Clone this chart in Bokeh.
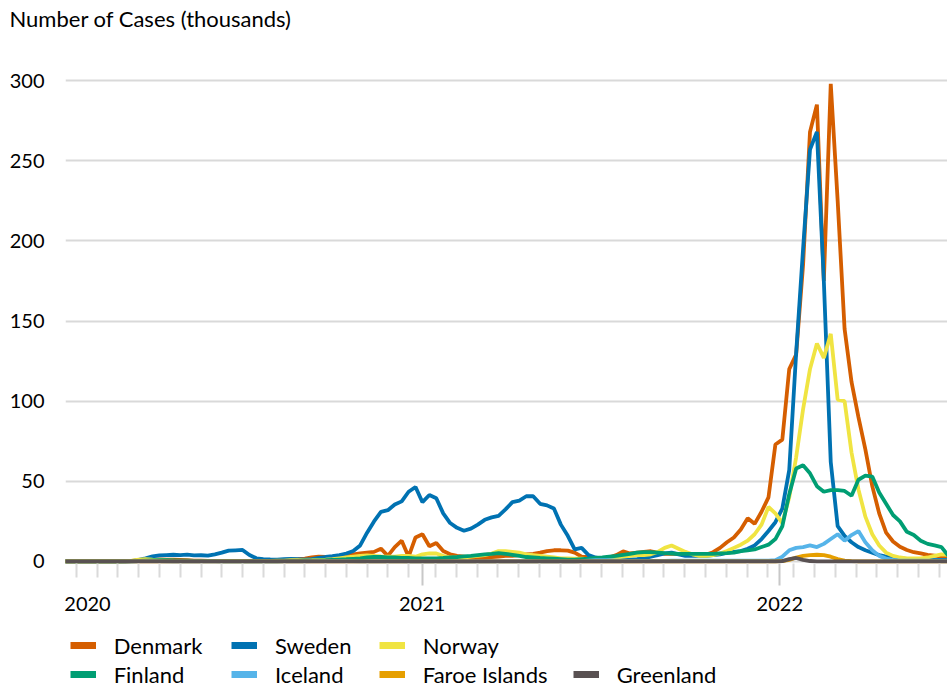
from bokeh.plotting import figure
from bokeh.layouts import column
from bokeh.models import (ColumnDataSource, FixedTicker, Range1d, Legend, LegendItem,
                          LinearAxis)
from bokeh.embed import file_html
from bokeh.resources import INLINE

# week index 0..128 (weekly points, Jan 2020 .. Jun 2022)
weeks = list(range(129))

denmark = [
    0, 0, 0, 0, 0, 0, 0, 0, 0, 0,
    0.3, 0.6, 0.9, 1.1, 1.3, 1.2, 1.1, 1.0, 0.8, 0.6,
    0.5, 0.4, 0.3, 0.3, 0.3, 0.3, 0.3, 0.4, 0.5, 0.7,
    0.8, 0.9, 1.0, 1.2, 1.4, 1.8, 2.5, 3.0, 2.8, 3.0,
    3.3, 4.0, 4.5, 5.0, 5.5, 6.0, 8.0, 3.5, 9.0, 13.0,
    3.0, 15.0, 17.0, 9.5, 11.5, 6.5, 4.5, 3.5, 3.0, 2.5,
    2.5, 2.5, 2.8, 3.0, 3.5, 3.5, 4.0, 4.5, 4.8, 5.5,
    6.5, 7.0, 7.0, 6.8, 5.5, 3.0, 2.7, 2.0, 1.7, 2.5,
    4.0, 6.3, 5.0, 5.5, 6.0, 6.4, 5.5, 4.8, 4.8, 4.8,
    4.6, 4.4, 4.4, 4.4, 5.8, 8.5, 12.0, 15.0, 20.0, 27.0,
    23.5, 31.0, 40.0, 73.0, 76.0, 120.0, 129.0, 185.0, 268.0, 285.0,
    175.0, 298.0, 225.0, 145.0, 112.0, 90.0, 70.0, 47.0, 30.0, 18.0,
    12.5, 9.2, 7.2, 5.8, 5.0, 4.2, 3.6, 3.0, 2.7]

sweden = [
    0, 0, 0, 0, 0, 0, 0, 0, 0, 0.1,
    0.3, 1.0, 2.0, 3.2, 3.8, 4.0, 4.2, 4.0, 4.3, 3.8,
    3.9, 3.6, 4.5, 5.5, 6.8, 7.0, 7.2, 4.0, 2.0, 1.5,
    1.3, 1.2, 1.4, 1.6, 1.4, 1.2, 1.5, 2.2, 2.8, 3.3,
    4.0, 5.0, 6.5, 10.0, 18.0, 25.0, 31.0, 32.0, 35.5, 37.5,
    43.5, 46.5, 37.0, 41.5, 39.5, 30.0, 24.0, 21.0, 19.2, 20.5,
    23.0, 26.0, 27.5, 28.5, 32.5, 37.0, 38.0, 40.7, 40.7, 36.0,
    35.0, 33.0, 23.0, 16.0, 7.5, 8.5, 4.0, 2.5, 1.7, 1.2,
    1.0, 1.0, 1.2, 1.5, 2.0, 3.0, 4.0, 5.0, 5.5, 4.5,
    3.5, 3.5, 3.5, 3.5, 4.0, 4.5, 5.5, 6.0, 6.5, 8.0,
    10.0, 14.0, 19.0, 24.5, 33.0, 57.0, 130.0, 195.0, 257.0, 268.0,
    175.0, 62.0, 22.0, 16.0, 12.0, 9.0, 7.0, 5.5, 4.0, 3.0,
    2.5, 2.0, 1.6, 1.4, 1.2, 1.1, 1.0, 1.0, 1.0]

norway = [
    0, 0, 0, 0, 0, 0, 0, 0, 0, 0.2,
    0.5, 1.2, 1.5, 1.2, 1.0, 0.7, 0.5, 0.4, 0.3, 0.3,
    0.2, 0.2, 0.2, 0.2, 0.2, 0.2, 0.2, 0.2, 0.2, 0.3,
    0.4, 0.5, 0.6, 0.8, 0.8, 0.7, 0.8, 1.0, 1.2, 1.5,
    2.0, 2.5, 3.0, 3.5, 3.8, 3.5, 3.2, 3.0, 3.0, 3.5,
    3.5, 3.0, 4.5, 5.0, 5.0, 3.5, 2.5, 2.5, 2.5, 3.0,
    3.5, 4.0, 5.0, 6.5, 6.5, 6.0, 5.5, 4.5, 4.0, 3.5,
    3.0, 2.5, 2.0, 2.0, 1.8, 1.8, 1.5, 1.5, 1.5, 2.0,
    2.5, 3.0, 3.5, 4.0, 4.0, 4.5, 6.0, 8.5, 10.0, 8.0,
    6.0, 4.5, 3.5, 3.5, 4.0, 5.0, 6.5, 8.5, 10.5, 13.0,
    17.0, 23.0, 34.0, 30.0, 24.0, 40.0, 65.0, 95.0, 120.0, 136.0,
    127.0, 142.0, 101.0, 100.0, 68.0, 45.0, 28.0, 17.0, 10.0, 5.5,
    3.5, 2.5, 2.0, 2.0, 2.0, 2.5, 3.5, 4.5, 4.0]

finland = [
    0, 0, 0, 0, 0, 0, 0, 0, 0, 0,
    0.1, 0.3, 0.5, 0.7, 0.8, 0.8, 0.7, 0.6, 0.5, 0.4,
    0.3, 0.2, 0.2, 0.1, 0.1, 0.1, 0.1, 0.1, 0.1, 0.1,
    0.1, 0.1, 0.2, 0.3, 0.4, 0.5, 0.6, 0.7, 0.8, 1.0,
    1.2, 1.4, 1.7, 2.0, 2.5, 2.8, 2.8, 2.5, 2.5, 2.3,
    2.2, 2.0, 2.0, 2.0, 2.0, 2.2, 2.5, 2.8, 3.2, 3.5,
    4.0, 4.5, 4.8, 5.2, 4.8, 4.2, 3.5, 2.8, 2.5, 2.2,
    2.0, 1.8, 1.5, 1.2, 1.2, 1.5, 1.8, 2.2, 2.5, 3.0,
    3.5, 4.2, 4.8, 5.5, 5.8, 5.8, 5.5, 5.2, 5.0, 4.8,
    4.8, 4.8, 4.8, 4.8, 4.8, 5.0, 5.2, 5.5, 6.5, 7.0,
    7.5, 9.0, 10.5, 14.0, 22.0, 42.0, 58.0, 60.0, 55.0, 47.0,
    43.5, 44.5, 44.5, 44.0, 41.0, 51.0, 53.5, 53.0, 43.0, 36.0,
    29.0, 25.0, 18.5, 16.5, 13.0, 11.0, 10.0, 9.0, 3.5]

iceland = [
    0, 0, 0, 0, 0, 0, 0, 0, 0, 0,
    0, 0.2, 0.4, 0.3, 0.2, 0.1, 0, 0, 0, 0,
    0, 0, 0, 0, 0, 0, 0, 0, 0, 0,
    0, 0, 0.1, 0.1, 0.1, 0.1, 0.2, 0.3, 0.4, 0.4,
    0.3, 0.3, 0.2, 0.1, 0.1, 0.1, 0.1, 0.1, 0.1, 0.1,
    0, 0, 0, 0, 0, 0, 0, 0, 0, 0,
    0, 0, 0, 0, 0, 0, 0, 0, 0, 0,
    0, 0, 0, 0, 0, 0.2, 0.5, 0.8, 0.9, 0.8,
    0.6, 0.5, 0.4, 0.3, 0.3, 0.3, 0.3, 0.4, 0.5, 0.6,
    0.6, 0.6, 0.6, 0.6, 0.6, 0.6, 0.6, 0.6, 0.6, 0.6,
    0.6, 0.6, 0.6, 0.8, 3.0, 7.0, 8.5, 9.0, 10.0, 9.0,
    11.0, 14.0, 17.0, 13.0, 16.5, 19.0, 12.0, 7.0, 3.5, 1.8,
    1.0, 0.6, 0.6, 0.6, 0.6, 0.6, 0.6, 0.6, 0.6]

faroe = [
    0, 0, 0, 0, 0, 0, 0, 0, 0, 0,
    0, 0, 0, 0, 0, 0, 0, 0, 0, 0,
    0, 0, 0, 0, 0, 0, 0, 0, 0, 0,
    0, 0, 0, 0, 0, 0, 0, 0, 0, 0,
    0, 0, 0, 0, 0, 0, 0, 0, 0, 0,
    0, 0, 0, 0, 0, 0, 0, 0, 0, 0,
    0, 0, 0, 0, 0, 0, 0, 0, 0, 0,
    0, 0, 0, 0, 0, 0, 0, 0, 0, 0,
    0, 0, 0, 0, 0, 0, 0, 0, 0, 0,
    0, 0, 0, 0, 0, 0, 0, 0, 0, 0,
    0, 0, 0, 0, 0.3, 1.0, 2.5, 3.5, 4.0, 4.2,
    4.0, 3.0, 1.5, 0.5, 0.2, 0, 0, 0, 0, 0,
    0, 0, 0, 0, 0, 0, 0, 0, 0]

greenland = [
    0, 0, 0, 0, 0, 0, 0, 0, 0, 0,
    0, 0, 0, 0, 0, 0, 0, 0, 0, 0,
    0, 0, 0, 0, 0, 0, 0, 0, 0, 0,
    0, 0, 0, 0, 0, 0, 0, 0, 0, 0,
    0, 0, 0, 0, 0, 0, 0, 0, 0, 0,
    0, 0, 0, 0, 0, 0, 0, 0, 0, 0,
    0, 0, 0, 0, 0, 0, 0, 0, 0, 0,
    0, 0, 0, 0, 0, 0, 0, 0, 0, 0,
    0, 0, 0, 0, 0, 0, 0, 0, 0, 0,
    0, 0, 0, 0, 0, 0, 0, 0, 0, 0,
    0, 0, 0, 0, 0.2, 1.5, 2.2, 1.0, 0.3, 0,
    0, 0, 0, 0, 0, 0, 0, 0, 0, 0,
    0, 0, 0, 0, 0, 0, 0, 0, 0]

countries = ["Denmark", "Sweden", "Norway", "Finland", "Iceland", "Faroe Islands", "Greenland"]
colors = ["#D55E00", "#0072B2", "#F0E442", "#009E73", "#56B4E9", "#E69F00", "#595152"]
series = [denmark, sweden, norway, finland, iceland, faroe, greenland]

y_ticks = [0, 50, 100, 150, 200, 250, 300]
year_labels = ["2020", "2021", "2022"]
year_pos = [3.6, 51.965, 103.64]          # label / tick positions in week units
minor_pos = ([2 + 3 * k for k in range(17)]
             + [53.9 + 3 * k for k in range(17)]
             + [105.65 + 3 * k for k in range(8)])
title_text = "Number of Cases (thousands)"

FONT = "Lato"
W = 947
FRAME_LEFT = 65

# ---------------- header (title) ----------------
header = figure(width=W, height=48, output_backend="svg", toolbar_location=None,
                x_axis_location=None, y_axis_location=None,
                x_range=Range1d(0, 1), y_range=Range1d(0, 1), title=title_text,
                min_border_left=0, min_border_right=0, min_border_top=0, min_border_bottom=0)
header.outline_line_color = None
header.grid.visible = False
header.title.align = "left"
header.title.offset = -58
header.title.standoff = 0
header.title.padding = 2
header.title.text_font = FONT
header.title.text_font_size = "22px"
header.title.text_font_style = "normal"
header.title.text_color = "#000000"

# ---------------- main chart ----------------
p = figure(width=W, height=576, output_backend="svg", toolbar_location=None,
           x_range=Range1d(0.42, 127.87), y_range=Range1d(-1.25, 320),
           min_border_left=FRAME_LEFT, min_border_right=0, min_border_top=0,
           min_border_bottom=61)
p.outline_line_color = None
p.background_fill_color = "white"
p.border_fill_color = "white"

data = {"week": weeks}
for name, vals in zip(countries, series):
    data[name] = vals
source = ColumnDataSource(data)

for name, color in zip(countries, colors):
    p.line("week", name, source=source, line_color=color, line_width=3.8)

p.xgrid.grid_line_color = None
p.ygrid.grid_line_color = "#d9d9d9"
p.ygrid.grid_line_width = 2
p.yaxis.ticker = FixedTicker(ticks=y_ticks)
p.yaxis.axis_line_color = None
p.yaxis.major_tick_line_color = None
p.yaxis.minor_tick_line_color = None
p.yaxis.major_tick_out = 0
p.yaxis.major_label_standoff = 21
p.yaxis.major_label_text_font = FONT
p.yaxis.major_label_text_font_size = "20px"
p.yaxis.major_label_text_color = "#000000"

# x axis A: tick marks only
xa = p.xaxis[0]
xa.ticker = FixedTicker(ticks=year_pos[1:], minor_ticks=minor_pos)
xa.major_label_overrides = {year_pos[1]: "", year_pos[2]: ""}
xa.major_label_text_font_size = "0px"
xa.major_label_standoff = 0
xa.axis_line_color = None
xa.major_tick_line_color = "#c8c8c8"
xa.major_tick_line_width = 2
xa.minor_tick_line_color = "#dadada"
xa.minor_tick_line_width = 2
xa.major_tick_in = 0
xa.minor_tick_in = 0
xa.major_tick_out = 22
xa.minor_tick_out = 14

# x axis B: year labels
xb = LinearAxis(ticker=FixedTicker(ticks=year_pos),
                major_label_overrides=dict(zip(year_pos, year_labels)),
                axis_line_color=None, major_tick_line_color=None,
                minor_tick_line_color=None, major_tick_in=0, major_tick_out=0,
                minor_tick_in=0, minor_tick_out=0, major_label_standoff=11,
                major_label_text_font=FONT, major_label_text_font_size="20px",
                major_label_text_color="#000000")
p.add_layout(xb, "below")

# ---------------- legend strip ----------------
lf = figure(width=W, height=64, output_backend="svg", toolbar_location=None,
            x_axis_location=None, y_axis_location=None,
            x_range=Range1d(0, 1), y_range=Range1d(0, 1),
            min_border_left=0, min_border_right=0, min_border_top=0, min_border_bottom=0)
lf.outline_line_color = None
lf.grid.visible = False
proxies = {}
for name, color in zip(countries, colors):
    # one point outside the visible range: only used for the legend swatch
    proxies[name] = lf.line(x=[-1], y=[-1], line_color=color, line_width=7)

legend_cols = [(69.7, ["Denmark", "Finland"]),
               (231.0, ["Sweden", "Iceland"]),
               (378.8, ["Norway", "Faroe Islands"]),
               (572.7, ["Greenland"])]
for lx, names in legend_cols:
    lg = Legend(items=[LegendItem(label=n, renderers=[proxies[n]]) for n in names],
                orientation="vertical", location=(lx - FRAME_LEFT, 0.5),
                glyph_width=26, glyph_height=26, label_height=24, label_standoff=18,
                spacing=2, padding=0, margin=0, border_line_color=None,
                background_fill_alpha=0, label_text_font=FONT,
                label_text_font_size="22px", label_text_color="#000000")
    lf.add_layout(lg)

layout = column(header, p, lf, spacing=0)
open("out.html", "w").write(file_html(layout, INLINE))
